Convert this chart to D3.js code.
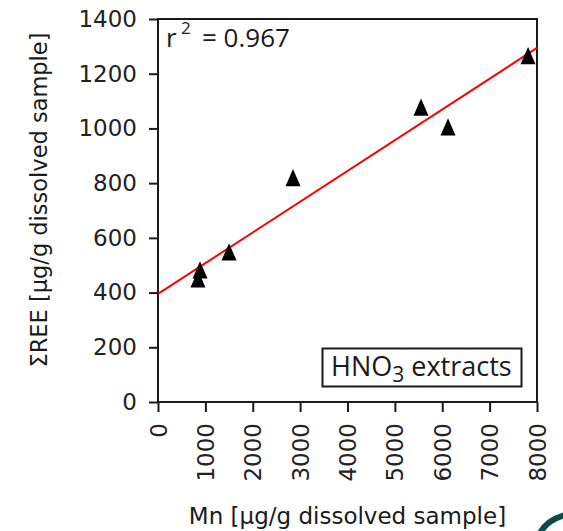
<!DOCTYPE html>
<html>
<head>
<meta charset="utf-8">
<script src="https://cdn.jsdelivr.net/npm/d3@7"></script>
<style>
    html, body { margin: 0; padding: 0; background: #fff; }
    svg { display: block; }
    .tick text { font-family: "DejaVu Sans", sans-serif; font-size: 23px; fill: #222; }
</style>
</head>
<body>
<svg width="563" height="531"></svg>
<script>
// Mn vs sum of REE, HNO3 extracts
const mnValues = [844, 887, 1499, 2850, 5552, 6122, 7811];
const reeValues = [450, 483, 549, 820, 1078, 1006, 1266];

const xTicks = [0, 1000, 2000, 3000, 4000, 5000, 6000, 7000, 8000];
const yTicks = [0, 200, 400, 600, 800, 1000, 1200, 1400];

// regression line
const fitIntercept = 395;
const fitSlope = 0.1124;
const fitRange = [0, 8000];
const r2Label = "0.967";

const svg = d3.select("svg");

const plotLeft = 158, plotRight = 537, plotTop = 19, plotBottom = 402;

const x = d3.scaleLinear().domain([0, 8000]).range([plotLeft, plotRight]);
const y = d3.scaleLinear().domain([0, 1400]).range([plotBottom, plotTop]);

// x axis
const xAxis = svg.append("g")
    .attr("transform", `translate(0,${plotBottom})`)
    .call(d3.axisBottom(x).tickValues(xTicks).tickSize(10).tickFormat(d3.format("d")));
xAxis.select(".domain").remove();
xAxis.selectAll(".tick line").attr("stroke", "#1a1a1a").attr("stroke-width", 2);
xAxis.selectAll(".tick text")
    .attr("transform", "rotate(-90)")
    .attr("x", -21)
    .attr("y", 0)
    .attr("dy", "0.35em")
    .attr("text-anchor", "end");

// y axis
const yAxis = svg.append("g")
    .attr("transform", `translate(${plotLeft},0)`)
    .call(d3.axisLeft(y).tickValues(yTicks).tickSize(9).tickPadding(12).tickFormat(d3.format("d")));
yAxis.select(".domain").remove();
yAxis.selectAll(".tick line").attr("stroke", "#1a1a1a").attr("stroke-width", 2);

// frame
svg.append("rect")
    .attr("x", plotLeft)
    .attr("y", plotTop)
    .attr("width", plotRight - plotLeft)
    .attr("height", plotBottom - plotTop)
    .attr("fill", "none")
    .attr("stroke", "#1a1a1a")
    .attr("stroke-width", 2);

// fit line
svg.append("line")
    .attr("x1", x(fitRange[0]))
    .attr("y1", y(fitIntercept + fitSlope * fitRange[0]))
    .attr("x2", x(fitRange[1]))
    .attr("y2", y(fitIntercept + fitSlope * fitRange[1]))
    .attr("stroke", "#ff0000")
    .attr("stroke-width", 2);

// tall triangle symbol
const tallTriangle = {
    draw(context, size) {
        const w = Math.sqrt(size);
        const h = w * 1.15;
        context.moveTo(0, -h / 2);
        context.lineTo(w / 2, h / 2);
        context.lineTo(-w / 2, h / 2);
        context.closePath();
    }
};

svg.selectAll(".point")
    .data(mnValues.map((m, i) => [m, reeValues[i]]))
    .join("path")
    .attr("class", "point")
    .attr("transform", d => `translate(${x(d[0])},${y(d[1])})`)
    .attr("d", d3.symbol().type(tallTriangle).size(225))
    .attr("fill", "#000");

// r^2 label
const r2 = svg.append("text")
    .attr("font-family", "'Open Sans', sans-serif")
    .attr("font-size", 26)
    .attr("fill", "#1a1a1a");
r2.append("tspan").attr("x", 166).attr("y", 46.5).text("r");
r2.append("tspan").attr("x", 181).attr("y", 34).attr("font-size", 17).text("2");
r2.append("tspan").attr("x", 202).attr("y", 46.5).text("= " + r2Label);

// legend box
svg.append("rect")
    .attr("x", 322.5)
    .attr("y", 348.5)
    .attr("width", 199)
    .attr("height", 38)
    .attr("fill", "#fff")
    .attr("stroke", "#1a1a1a")
    .attr("stroke-width", 2);

const lab = svg.append("text")
    .attr("x", 331)
    .attr("y", 376)
    .attr("font-family", "'Open Sans', sans-serif")
    .attr("font-size", 27)
    .attr("fill", "#1a1a1a");
lab.append("tspan").text("HNO");
lab.append("tspan").attr("font-size", 21).attr("dy", 6).text("3");
lab.append("tspan").attr("dy", -6).text(" extracts");

// axis titles
svg.append("text")
    .attr("x", (plotLeft + plotRight) / 2)
    .attr("y", 524)
    .attr("text-anchor", "middle")
    .attr("font-family", "'DejaVu Sans', sans-serif")
    .attr("font-size", 23)
    .attr("fill", "#1a1a1a")
    .text("Mn [µg/g dissolved sample]");

svg.append("text")
    .attr("transform", "translate(47,200) rotate(-90)")
    .attr("text-anchor", "middle")
    .attr("font-family", "'DejaVu Sans', sans-serif")
    .attr("font-size", 22.5)
    .attr("fill", "#1a1a1a")
    .text("ΣREE [µg/g dissolved sample]");

// decorative corner arc
svg.append("path")
    .attr("d", "M540,533 Q547,520 565,515")
    .attr("fill", "none")
    .attr("stroke", "#0c4a45")
    .attr("stroke-width", 6);
</script>
</body>
</html>
